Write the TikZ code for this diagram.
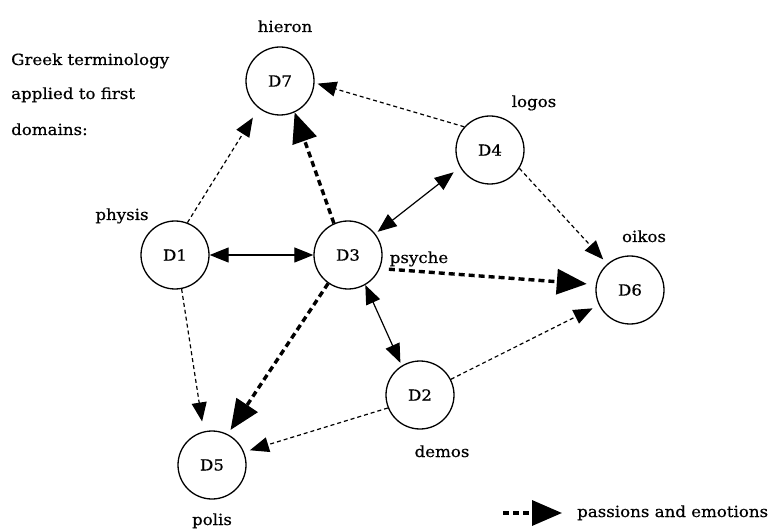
\documentclass[tikz,border=0pt]{standalone}
\usepackage{fontspec}
\setmainfont{DejaVu Serif}[FakeStretch=1.08,FakeBold=0.6]
\usetikzlibrary{arrows.meta}
\begin{document}
\begin{tikzpicture}[x=1pt,y=-1pt,
  font=\fontsize{15.4}{18}\selectfont,
  dombox/.style={draw,circle,minimum size=68pt,inner sep=0pt,line width=1.3pt},
  lbl/.style={anchor=base,inner sep=0pt},
  rel/.style={line width=1.2pt,-{Triangle[length=19pt,width=15pt]}},
  relboth/.style={line width=1.2pt,{Triangle[length=19pt,width=15pt]}-{Triangle[length=19pt,width=15pt]}},
  weak/.style={rel,dash pattern=on 4pt off 3pt},
  passion/.style={line width=3.4pt,dash pattern=on 6pt off 4pt,-{Triangle[length=30pt,width=25pt]}}]
\useasboundingbox (0,0) rectangle (768,529);

% domains
\node[dombox] (D7) at (280,81)  {D7};
\node[dombox] (D1) at (175,255) {D1};
\node[dombox] (D3) at (348,255) {D3};
\node[dombox] (D4) at (490,150) {D4};
\node[dombox] (D6) at (630,290) {D6};
\node[dombox] (D2) at (420,395) {D2};
\node[dombox] (D5) at (212,465) {D5};

% greek names
\node[lbl] (hieron) at (285,32)  {hieron};
\node[lbl] (physis) at (122,220) {physis};
\node[lbl] (logos)  at (534,107) {logos};
\node[lbl] (oikos)  at (644,242) {oikos};
\node[lbl] (psyche) at (419,263) {psyche};
\node[lbl] (demos)  at (442,457) {demos};
\node[lbl] (polis)  at (212,525) {polis};

% heading
\node[anchor=base west,inner sep=0pt] (h1) at (11,65)  {Greek terminology};
\node[anchor=base west,inner sep=0pt] (h2) at (11,99)  {applied to first};
\node[anchor=base west,inner sep=0pt] (h3) at (11,135) {domains:};

% two-way relations
\draw[relboth] (D1.east) -- (D3.west);
\draw[relboth,shorten <=3pt,shorten >=8pt] (D3.38) -- (D4.210);
\draw[relboth,shorten >=3pt] (D3.-60) -- (D2.122);

% one-way relations
\draw[weak,shorten >=11pt] (D1.69) -- (D7.-128);
\draw[weak,shorten >=3pt] (D4.138) -- (D7.-3);
\draw[weak,shorten >=6pt] (D4.-32) -- (D6.131);
\draw[weak,shorten >=10pt] (D1.-79) -- (D5.104);
\draw[weak,shorten >=7pt] (D2.27) -- (D6.206);
\draw[weak,shorten >=6pt] (D2.202) -- (D5.22);

% passions and emotions
\draw[passion] (D3.114) -- (D7.-65);
\draw[passion,shorten <=9pt,shorten >=9pt] (D3.-23) -- (D6.171);
\draw[passion,shorten >=5pt] (D3.235) -- (D5.63);

% key
\coordinate (keyA) at (503,513);
\coordinate (keyB) at (562,513);
\draw[passion] (keyA) -- (keyB);
\node[anchor=base west,inner sep=0pt] (keytext) at (577,517) {passions and emotions};
\end{tikzpicture}
\end{document}
